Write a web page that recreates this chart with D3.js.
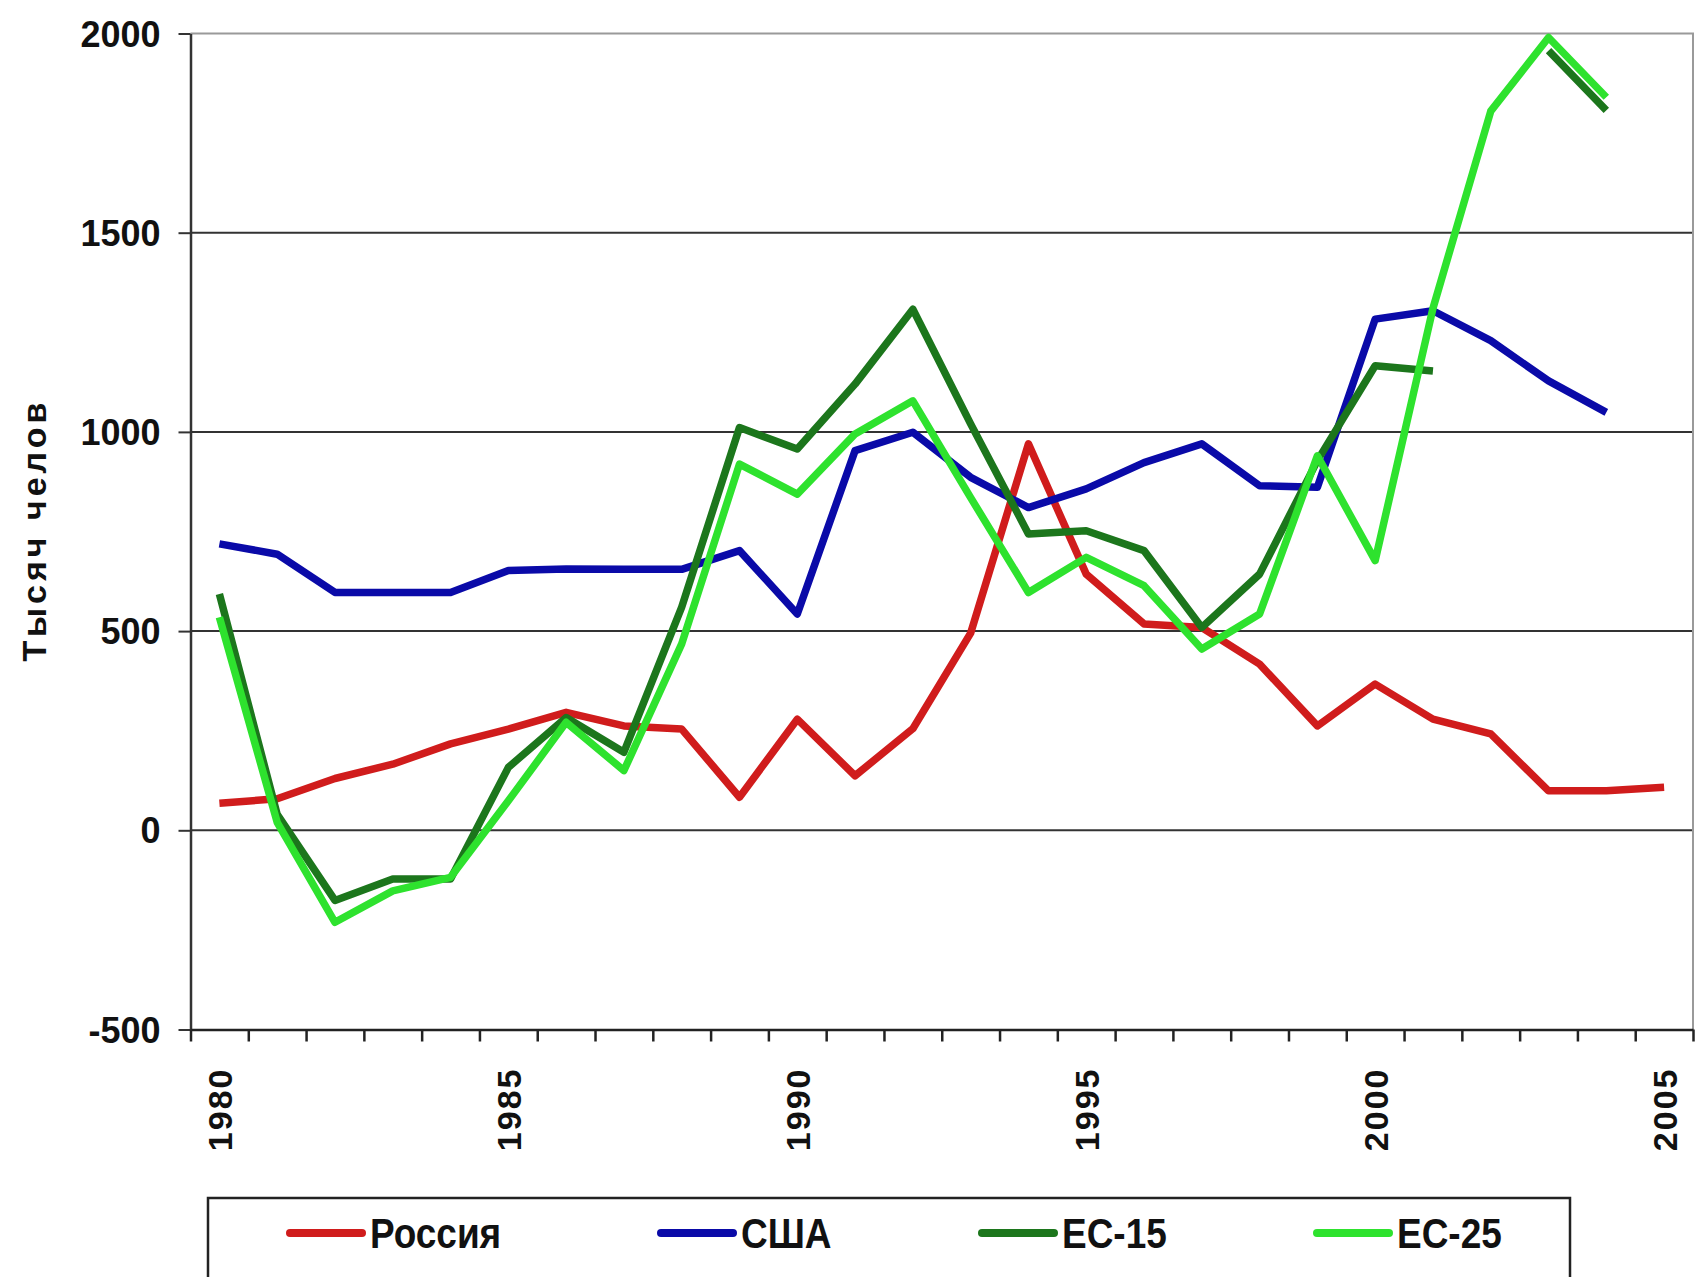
<!DOCTYPE html>
<html>
<head>
<meta charset="utf-8">
<script src="https://cdn.jsdelivr.net/npm/d3@7"></script>
<style>
  body { margin: 0; background: #fff; }
  text { font-family: "Liberation Sans", Arial, sans-serif; font-weight: bold; fill: #111; }
</style>
</head>
<body>
<svg width="1696" height="1277"></svg>
<script>
// data (thousand people)
var years = [1980, 1981, 1982, 1983, 1984, 1985, 1986, 1987, 1988, 1989, 1990, 1991, 1992,
             1993, 1994, 1995, 1996, 1997, 1998, 1999, 2000, 2001, 2002, 2003, 2004, 2005];
var russia = [68, 79, 130, 166, 217, 254, 296, 262, 254, 83, 279, 137, 255,
              495, 970, 643, 518, 509, 417, 262, 367, 279, 242, 99, 99, 108];
var usa = [719, 693, 597, 597, 597, 652, 656, 655, 655, 702, 543, 953, 999,
           886, 810, 857, 923, 970, 865, 861, 1283, 1304, 1229, 1128, 1049, null];
var eu15 = [593, 40, -176, -122, -122, 158, 283, 196, 560, 1011, 957, 1120, 1308,
            1020, 744, 752, 702, 509, 643, 928, 1166, 1153, null, 1957, 1807, null];
var eu25 = [535, 20, -231, -152, -118, 74, 271, 150, 468, 919, 844, 995, 1078,
            835, 597, 685, 614, 455, 543, 940, 677, 1310, 1805, 1990, 1840, null];
var yTicks = [-500, 0, 500, 1000, 1500, 2000];
var yearLabels = [1980, 1985, 1990, 1995, 2000, 2005];
var seriesNames = ["Россия", "США", "ЕС-15", "ЕС-25"];
var seriesColors = ["#d01c1c", "#0a0aa8", "#1c761c", "#2ee22e"];
var legendX = [290, 661, 982, 1317];

var svg = d3.select("svg");
var plotL = 190.5, plotR = 1693, plotT = 33.5, plotB = 1029.5;

var x = d3.scaleLinear().domain([1979.5, 2005.5]).range([plotL, plotR]);
var y = d3.scaleLinear().domain([-500, 2000]).range([plotB, plotT]);

// gridlines
svg.append("g")
  .selectAll("line")
  .data(yTicks.filter(function(d) { return d > -500 && d < 2000; }))
  .enter().append("line")
  .attr("x1", plotL).attr("x2", plotR)
  .attr("y1", function(d) { return y(d); })
  .attr("y2", function(d) { return y(d); })
  .attr("stroke", "#333").attr("stroke-width", 2);

// plot border top/right (light gray)
svg.append("path")
  .attr("d", "M" + plotL + "," + y(2000) + "H" + plotR + "V" + plotB)
  .attr("fill", "none").attr("stroke", "#9a9a9a").attr("stroke-width", 2);

// y axis
var yAxis = svg.append("g")
  .attr("transform", "translate(" + plotL + ",0)")
  .call(d3.axisLeft(y).tickValues(yTicks).tickSize(12).tickSizeOuter(0).tickPadding(18)
    .tickFormat(function(d) { return String(d); }));
yAxis.select(".domain").attr("stroke", "#333").attr("stroke-width", 2.5);
yAxis.selectAll(".tick line").attr("stroke", "#333").attr("stroke-width", 2);
yAxis.selectAll("text").style("font-size", "36px").attr("dy", "0.35em");

// x axis: ticks at category boundaries
var bounds = years.map(function(d) { return d - 0.5; }).concat([2005.5]);
var xAxis = svg.append("g")
  .attr("transform", "translate(0," + plotB + ")")
  .call(d3.axisBottom(x).tickValues(bounds).tickSize(12).tickSizeOuter(0).tickFormat(""));
xAxis.select(".domain").attr("stroke", "#222").attr("stroke-width", 2.5);
xAxis.selectAll(".tick line").attr("stroke", "#222").attr("stroke-width", 2.5);

// x labels, rotated
var xLab = svg.append("g")
  .attr("transform", "translate(0," + plotB + ")")
  .call(d3.axisBottom(x).tickValues(yearLabels).tickSize(0).tickFormat(function(d) { return String(d); }));
xLab.select(".domain").remove();
xLab.selectAll("text")
  .style("font-size", "34px")
  .style("letter-spacing", "2px")
  .attr("transform", "rotate(-90)")
  .attr("text-anchor", "end")
  .attr("x", -38).attr("y", 0).attr("dy", "0.35em");

// y axis title
svg.append("text")
  .attr("transform", "translate(46,530) rotate(-90)")
  .attr("text-anchor", "middle")
  .style("font-size", "34px")
  .style("letter-spacing", "4px")
  .text("Тысяч челов");

// lines
var line = d3.line()
  .defined(function(d) { return d[1] != null; })
  .x(function(d) { return x(d[0]); })
  .y(function(d) { return y(d[1]); });

[russia, usa, eu15, eu25].forEach(function(vals, i) {
  svg.append("path")
    .datum(years.map(function(yr, j) { return [yr, vals[j]]; }))
    .attr("d", line)
    .attr("fill", "none")
    .attr("stroke", seriesColors[i])
    .attr("stroke-width", 7.5)
    .attr("stroke-linejoin", "round");
});

// legend
var lg = svg.append("g");
lg.append("rect")
  .attr("x", 208).attr("y", 1198).attr("width", 1362).attr("height", 120)
  .attr("fill", "#fff").attr("stroke", "#222").attr("stroke-width", 2.5);
var item = lg.selectAll("g.item")
  .data(seriesNames)
  .enter().append("g")
  .attr("class", "item")
  .attr("transform", function(d, i) { return "translate(" + legendX[i] + ",1233)"; });
item.append("line")
  .attr("x1", 0).attr("x2", 72)
  .attr("stroke", function(d, i) { return seriesColors[i]; })
  .attr("stroke-width", 8).attr("stroke-linecap", "round");
item.append("text")
  .attr("transform", "translate(80,0) scale(0.88,1)")
  .attr("dy", "0.36em")
  .style("font-size", "42px")
  .text(function(d) { return d; });
</script>
</body>
</html>
